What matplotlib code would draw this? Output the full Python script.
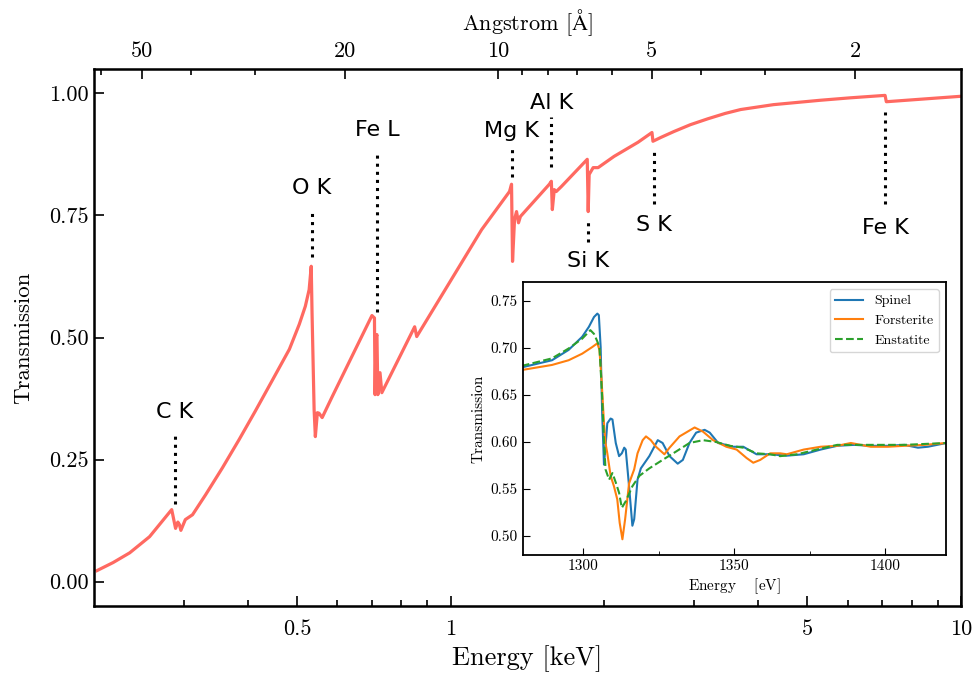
import numpy as np
import matplotlib
matplotlib.use("Agg")
import matplotlib.pyplot as plt
from matplotlib.ticker import FixedLocator, NullFormatter, FixedFormatter

plt.rcParams['font.family'] = 'serif'
plt.rcParams['font.serif'] = ['cmr10']
plt.rcParams['mathtext.fontset'] = 'cm'
plt.rcParams['axes.unicode_minus'] = False
plt.rcParams['axes.formatter.use_mathtext'] = True

# main transmission curve
energy_kev = [0.2027, 0.218, 0.235, 0.257, 0.284, 0.289, 0.292, 0.294, 0.296, 0.302, 0.312,
              0.331, 0.357, 0.385, 0.414, 0.447, 0.483, 0.505, 0.519, 0.528, 0.533,
              0.535, 0.540, 0.543, 0.548, 0.552, 0.560, 0.586, 0.701, 0.709, 0.711,
              0.714, 0.717, 0.720, 0.727, 0.733, 0.850, 0.858, 1.150, 1.304, 1.316,
              1.322, 1.334, 1.346, 1.358, 1.370, 1.561, 1.575, 1.582, 1.596, 1.610,
              1.647, 1.852, 1.860, 1.868, 1.902, 1.945, 2.090, 2.329, 2.480, 2.491,
              2.583, 2.739, 2.95, 3.19, 3.45, 3.70, 4.29, 5.30, 6.07, 7.10, 7.14, 9.95]
transmission = [0.0225, 0.039, 0.059, 0.092, 0.1475, 0.109, 0.122, 0.117, 0.105, 0.127, 0.137,
                0.178, 0.233, 0.291, 0.349, 0.412, 0.476, 0.527, 0.564, 0.598, 0.646,
                0.55, 0.352, 0.297, 0.346, 0.345, 0.336, 0.379, 0.545, 0.540, 0.383,
                0.50, 0.506, 0.383, 0.428, 0.387, 0.522, 0.502, 0.721, 0.799, 0.814,
                0.656, 0.742, 0.758, 0.735, 0.748, 0.814, 0.820, 0.762, 0.803, 0.799,
                0.809, 0.865, 0.758, 0.834, 0.848, 0.848, 0.871, 0.900, 0.920, 0.902,
                0.910, 0.922, 0.936, 0.948, 0.959, 0.967, 0.977, 0.986, 0.991, 0.996, 0.983, 0.994]

# edge labels: name, energy, text y, dotted line from / to
edge_names = ['C K', 'O K', 'Fe L', 'Mg K', 'Al K', 'Si K', 'S K', 'Fe K']
edge_energy = [0.288, 0.535, 0.717, 1.316, 1.575, 1.86, 2.50, 7.11]
edge_text_y = [0.348, 0.807, 0.926, 0.924, 0.980, 0.656, 0.730, 0.725]
edge_line_lo = [0.158, 0.664, 0.553, 0.828, 0.850, 0.695, 0.773, 0.773]
edge_line_hi = [0.301, 0.762, 0.875, 0.889, 0.951, 0.744, 0.881, 0.961]

angstrom_major = [50, 20, 10, 5, 2]
angstrom_minor = [60, 40, 30, 9, 8, 7, 6, 4, 3]

# inset: Mg K edge fine structure
spinel_ev = [1279.7, 1289.7, 1295.2, 1299.7, 1301.9, 1303.6, 1304.7, 1305.2, 1305.8, 1306.3,
             1306.9, 1307.4, 1308.0, 1309.1, 1309.7, 1310.8, 1311.9, 1312.8, 1313.6, 1314.1,
             1315.2, 1316.3, 1316.9, 1318.0, 1319.1, 1321.9, 1324.7, 1326.3, 1328.6, 1331.3,
             1333.0, 1335.2, 1337.4, 1340.2, 1341.9, 1344.7, 1349.7, 1353.0, 1355.2, 1357.4,
             1361.9, 1367.4, 1373.0, 1378.6, 1384.1, 1389.7, 1395.2, 1400.8, 1406.3, 1410.8,
             1414.1, 1420.2]
spinel_t = [0.6794, 0.687, 0.698, 0.712, 0.7225, 0.733, 0.7366, 0.735, 0.701, 0.631,
            0.576, 0.595, 0.620, 0.625, 0.624, 0.599, 0.585, 0.588, 0.594, 0.592,
            0.553, 0.511, 0.518, 0.560, 0.572, 0.585, 0.602, 0.599, 0.585, 0.577,
            0.581, 0.599, 0.610, 0.613, 0.610, 0.599, 0.595, 0.595, 0.591, 0.587,
            0.587, 0.5855, 0.587, 0.592, 0.596, 0.597, 0.596, 0.596, 0.597, 0.594,
            0.595, 0.599]

forsterite_ev = [1279.7, 1289.7, 1295.2, 1299.7, 1303.0, 1304.7, 1305.4, 1306.1, 1306.9, 1307.4,
                 1308.0, 1309.1, 1310.2, 1311.3, 1312.1, 1313.0, 1313.9, 1315.2, 1316.9, 1318.0,
                 1319.7, 1320.8, 1322.4, 1324.1, 1326.9, 1328.6, 1331.9, 1336.9, 1339.7, 1343.0,
                 1347.4, 1350.8, 1354.1, 1356.3, 1358.6, 1361.9, 1365.2, 1367.4, 1373.0, 1378.6,
                 1384.1, 1388.6, 1395.2, 1400.8, 1406.3, 1412.9, 1420.2]
forsterite_t = [0.6766, 0.682, 0.687, 0.694, 0.701, 0.705, 0.698, 0.666, 0.620, 0.599,
                0.588, 0.564, 0.553, 0.539, 0.514, 0.4966, 0.518, 0.556, 0.571, 0.588,
                0.602, 0.606, 0.602, 0.595, 0.587, 0.594, 0.606, 0.6155, 0.611, 0.602,
                0.595, 0.592, 0.583, 0.578, 0.581, 0.588, 0.588, 0.587, 0.592, 0.595,
                0.596, 0.599, 0.595, 0.595, 0.596, 0.597, 0.599]

enstatite_ev = [1279.7, 1289.7, 1295.2, 1299.7, 1302.4, 1303.6, 1304.7, 1305.4, 1306.3, 1306.9,
                1307.4, 1308.6, 1309.7, 1310.8, 1311.9, 1312.8, 1314.1, 1316.3, 1318.6, 1321.9,
                1326.3, 1330.8, 1335.2, 1339.7, 1344.1, 1348.6, 1353.0, 1357.4, 1361.9, 1365.2,
                1370.8, 1378.6, 1384.1, 1395.2, 1406.3, 1420.2]
enstatite_t = [0.681, 0.689, 0.6995, 0.710, 0.719, 0.715, 0.707, 0.701, 0.648, 0.602,
               0.571, 0.560, 0.567, 0.557, 0.546, 0.530, 0.537, 0.553, 0.564, 0.572,
               0.581, 0.590, 0.599, 0.602, 0.600, 0.596, 0.594, 0.588, 0.587, 0.585,
               0.587, 0.593, 0.597, 0.597, 0.597, 0.599]

HC = 12.398  # keV * Angstrom

fig = plt.figure(figsize=(9.77, 6.8), dpi=100)
ax = fig.add_axes([0.0962, 0.1088, 0.8874, 0.7897])

ax.plot(energy_kev, transmission, color='#ff6961', lw=2.3)

for name, e, ty, lo, hi in zip(edge_names, edge_energy, edge_text_y, edge_line_lo, edge_line_hi):
    ax.plot([e, e], [lo, hi], color='black', ls=':', lw=2.2)
    ax.text(e, ty, name, ha='center', va='center', fontsize=16, family='DejaVu Sans')

ax.set_xscale('log')
ax.set_xlim(0.2, 10)
ax.set_ylim(-0.05, 1.05)
ax.xaxis.set_major_locator(FixedLocator([0.5, 1, 5, 10]))
ax.xaxis.set_major_formatter(FixedFormatter(['0.5', '1', '5', '10']))
ax.xaxis.set_minor_locator(FixedLocator([0.3, 0.4, 0.6, 0.7, 0.8, 0.9, 2, 3, 4, 6, 7, 8, 9]))
ax.xaxis.set_minor_formatter(NullFormatter())
ax.set_yticks([0, 0.25, 0.5, 0.75, 1.0])
ax.set_yticklabels(['0.00', '0.25', '0.50', '0.75', '1.00'])
ax.tick_params(which='both', direction='in', top=False, right=False, labelsize=16, width=1.2)
ax.tick_params(which='major', length=7)
ax.tick_params(which='minor', length=4)
ax.tick_params(axis='x', which='both', pad=10)
ax.set_xlabel('Energy [keV]', fontsize=19, labelpad=4)
ax.set_ylabel('Transmission', fontsize=16.5, labelpad=12)
for s in ax.spines.values():
    s.set_linewidth(1.8)

# top axis in wavelength
ax2 = ax.twiny()
ax2.set_xscale('log')
ax2.set_xlim(ax.get_xlim())
ax2.xaxis.set_major_locator(FixedLocator([HC / l for l in angstrom_major]))
ax2.xaxis.set_major_formatter(FixedFormatter([str(l) for l in angstrom_major]))
ax2.xaxis.set_minor_locator(FixedLocator([HC / l for l in angstrom_minor]))
ax2.xaxis.set_minor_formatter(NullFormatter())
ax2.tick_params(which='both', direction='in', labelsize=16, width=1.2, pad=6)
ax2.tick_params(which='major', length=7)
ax2.tick_params(which='minor', length=4)
ax2.set_xlabel(r'Angstrom [$\mathrm{\AA}$]', fontsize=16, labelpad=8)

# inset
axi = fig.add_axes([0.535, 0.184, 0.433, 0.401])
axi.plot(spinel_ev, spinel_t, color='tab:blue', lw=1.5, label='Spinel')
axi.plot(forsterite_ev, forsterite_t, color='tab:orange', lw=1.5, label='Forsterite')
axi.plot(enstatite_ev, enstatite_t, color='tab:green', lw=1.5, ls='--', label='Enstatite')
axi.set_xlim(1280, 1420)
axi.set_ylim(0.48, 0.77)
axi.set_xticks([1300, 1350, 1400])
axi.set_xticklabels(['1300', '1350', '1400'])
axi.xaxis.set_minor_locator(FixedLocator([1325, 1375]))
axi.set_yticks([0.50, 0.55, 0.60, 0.65, 0.70, 0.75])
axi.set_yticklabels(['0.50', '0.55', '0.60', '0.65', '0.70', '0.75'])
axi.tick_params(which='both', direction='in', labelsize=11)
axi.tick_params(which='major', length=5)
axi.tick_params(which='minor', length=3)
axi.set_xlabel(r'Energy $\quad$[eV]', fontsize=11, labelpad=2)
axi.set_ylabel('Transmission', fontsize=11)
for s in axi.spines.values():
    s.set_linewidth(1.3)
axi.legend(loc='upper right', fontsize=10)

fig.savefig('out.png', dpi=100)
